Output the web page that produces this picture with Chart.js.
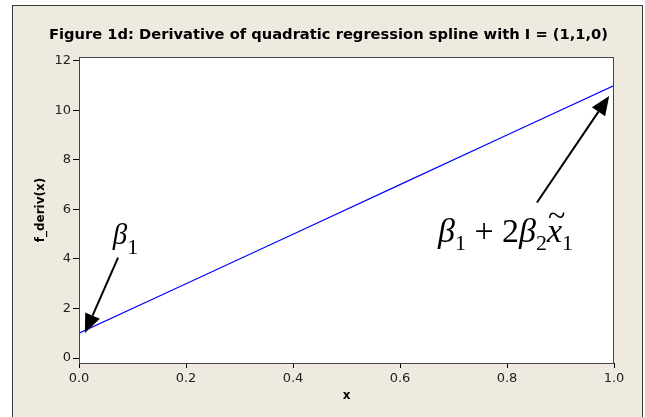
<!DOCTYPE html>
<html>
<head>
<meta charset="utf-8">
<script src="https://cdn.jsdelivr.net/npm/chart.js@4.4.1/dist/chart.umd.min.js"></script>
<style>
  html, body { margin: 0; padding: 0; background: #fff; }
  #wrap { width: 645px; height: 417px; }
</style>
</head>
<body>
<div id="wrap"><canvas id="chartDeriv" width="645" height="417"></canvas></div>
<script>
// derivative of the quadratic spline, read at the x tick positions
const xValues = [0.0, 0.2, 0.4, 0.6, 0.8, 1.0];
const derivValues = [1, 3, 5, 7, 9, 11];
const xTicks = [0.0, 0.2, 0.4, 0.6, 0.8, 1.0];
const yTicks = [0, 2, 4, 6, 8, 10, 12];

const titleText = 'Figure 1d: Derivative of quadratic regression spline with I = (1,1,0)';
const sansFont = '"DejaVu Sans", sans-serif';
const serifFont = '"Liberation Serif", "DejaVu Serif", serif';

// arrows + formulas, anchored in data units
const notes = {
    left: { tail: [0.073, 4.05], tip: [0.011, 1.01], text: [0.063, 4.6], size: 29, sub: 22, subDrop: 10 },
    right: { tail: [0.856, 6.28], tip: [0.991, 10.58], text: [0.671, 4.7], size: 34, sub: 22, subDrop: 8 }
};

const backdrop = {
    id: 'backdrop',
    beforeDraw(chart) {
        const ctx = chart.ctx;
        const a = chart.chartArea;
        ctx.save();
        ctx.fillStyle = '#ffffff';
        ctx.fillRect(0, 0, chart.width, chart.height);
        ctx.fillStyle = '#eeeae0';
        ctx.fillRect(12, 5, 631, chart.height);
        ctx.strokeStyle = '#3a3a3a';
        ctx.lineWidth = 1;
        ctx.strokeRect(12.5, 5.5, 630, chart.height + 5);
        ctx.fillStyle = '#ffffff';
        ctx.fillRect(a.left, a.top, a.right - a.left, a.bottom - a.top);
        ctx.restore();
    },
    afterDatasetsDraw(chart) {
        const ctx = chart.ctx;
        const a = chart.chartArea;
        ctx.save();
        ctx.strokeStyle = '#444';
        ctx.lineWidth = 1;
        ctx.strokeRect(Math.round(a.left) + 0.5, Math.round(a.top) + 0.5,
            Math.round(a.right - a.left) - 1, Math.round(a.bottom - a.top));
        ctx.restore();
    }
};

function drawArrow(ctx, x0, y0, x1, y1) {
    const ang = Math.atan2(y1 - y0, x1 - x0);
    const len = 19, half = 8;
    const bx = x1 - len * Math.cos(ang), by = y1 - len * Math.sin(ang);
    ctx.beginPath();
    ctx.moveTo(x0, y0);
    ctx.lineTo(bx, by);
    ctx.stroke();
    ctx.beginPath();
    ctx.moveTo(x1, y1);
    ctx.lineTo(bx + half * Math.sin(ang), by - half * Math.cos(ang));
    ctx.lineTo(bx - half * Math.sin(ang), by + half * Math.cos(ang));
    ctx.closePath();
    ctx.fill();
}

// draws a row of pieces: [text, kind] where kind is 'it', 'up', 'sub' or 'tilde-it'
function drawFormula(ctx, x, y, pieces, n) {
    let cx = x;
    for (const [t, kind] of pieces) {
        if (kind === 'sub') {
            ctx.font = n.sub + 'px ' + serifFont;
            ctx.fillText(t, cx, y + n.subDrop);
        } else if (kind === 'up') {
            ctx.font = n.size + 'px ' + serifFont;
            ctx.fillText(t, cx, y);
        } else {
            ctx.font = 'italic ' + n.size + 'px ' + serifFont;
            ctx.fillText(t, cx, y);
            if (kind === 'tilde-it') {
                const w = ctx.measureText(t).width;
                ctx.save();
                ctx.font = Math.round(n.size * 0.95) + 'px ' + serifFont;
                const tw = ctx.measureText('~').width;
                ctx.fillText('~', cx + (w - tw) / 2 + 2, y - n.size * 0.46);
                ctx.restore();
            }
        }
        cx += ctx.measureText(t).width;
    }
}

const annotations = {
    id: 'annotations',
    afterDatasetsDraw(chart) {
        const ctx = chart.ctx;
        const sx = chart.scales.x, sy = chart.scales.y;
        const px = p => [sx.getPixelForValue(p[0]), sy.getPixelForValue(p[1])];
        ctx.save();
        ctx.strokeStyle = '#000';
        ctx.fillStyle = '#000';
        ctx.lineWidth = 2;
        ctx.textBaseline = 'alphabetic';
        ctx.textAlign = 'left';

        for (const key of ['left', 'right']) {
            const n = notes[key];
            const [tx, ty] = px(n.tail);
            const [hx, hy] = px(n.tip);
            drawArrow(ctx, tx, ty, hx, hy);
        }

        let [lx, ly] = px(notes.left.text);
        drawFormula(ctx, lx, ly, [['β', 'it'], ['1', 'sub']], notes.left);

        let [rx, ry] = px(notes.right.text);
        drawFormula(ctx, rx, ry, [
            ['β', 'it'], ['1', 'sub'], [' + ', 'up'], ['2', 'up'],
            ['β', 'it'], ['2', 'sub'], ['x', 'tilde-it'], ['1', 'sub']
        ], notes.right);
        ctx.restore();
    }
};

new Chart(document.getElementById('chartDeriv').getContext('2d'), {
    type: 'line',
    data: {
        datasets: [{
            label: 'f_deriv(x)',
            data: xValues.map((x, i) => ({ x: x, y: derivValues[i] })),
            borderColor: '#0000ff',
            borderWidth: 1.2,
            pointRadius: 0,
            tension: 0,
            fill: false
        }]
    },
    options: {
        responsive: false,
        animation: false,
        layout: { padding: { left: 22, right: 10, top: 0, bottom: 0 } },
        plugins: {
            legend: { display: false },
            tooltip: { enabled: false },
            title: {
                display: true,
                text: titleText,
                color: '#000',
                font: { family: sansFont, size: 14.7, weight: 'bold', lineHeight: 1.2 },
                padding: { top: 26, bottom: 13.4 }
            }
        },
        scales: {
            x: {
                type: 'linear',
                min: 0,
                max: 1,
                afterFit(scale) { scale.height = 54; },
                afterBuildTicks(scale) { scale.ticks = xTicks.map(v => ({ value: v })); },
                border: { display: true, color: '#000', width: 1 },
                grid: { drawOnChartArea: false, drawTicks: true, tickLength: 5, color: '#000' },
                ticks: {
                    color: '#222',
                    padding: 3,
                    maxRotation: 0,
                    font: { family: sansFont, size: 13 },
                    callback: v => Number(v).toFixed(1)
                },
                title: {
                    display: true,
                    text: 'x',
                    color: '#000',
                    font: { family: sansFont, size: 12, weight: 'bold', lineHeight: 1.2 },
                    padding: { top: 0, bottom: 14 }
                }
            },
            y: {
                type: 'linear',
                min: -0.2,
                max: 12.15,
                afterFit(scale) { scale.width = 57; },
                afterBuildTicks(scale) { scale.ticks = yTicks.map(v => ({ value: v })); },
                border: { display: true, color: '#000', width: 1 },
                grid: { drawOnChartArea: false, drawTicks: true, tickLength: 6, color: '#000' },
                ticks: {
                    color: '#222',
                    padding: 2,
                    font: { family: sansFont, size: 13 },
                    callback: v => String(v)
                },
                title: {
                    display: true,
                    text: 'f_deriv(x)',
                    color: '#000',
                    font: { family: sansFont, size: 12, weight: 'bold', lineHeight: 1.2 },
                    padding: { top: 12, bottom: 0 }
                }
            },
            // empty strip on the right so the plot ends short of the frame
            gutter: {
                type: 'linear',
                position: 'right',
                min: 0,
                max: 1,
                afterFit(scale) { scale.width = 21; },
                border: { display: false },
                grid: { display: false },
                ticks: { display: false }
            }
        }
    },
    plugins: [backdrop, annotations]
});
</script>
</body>
</html>
